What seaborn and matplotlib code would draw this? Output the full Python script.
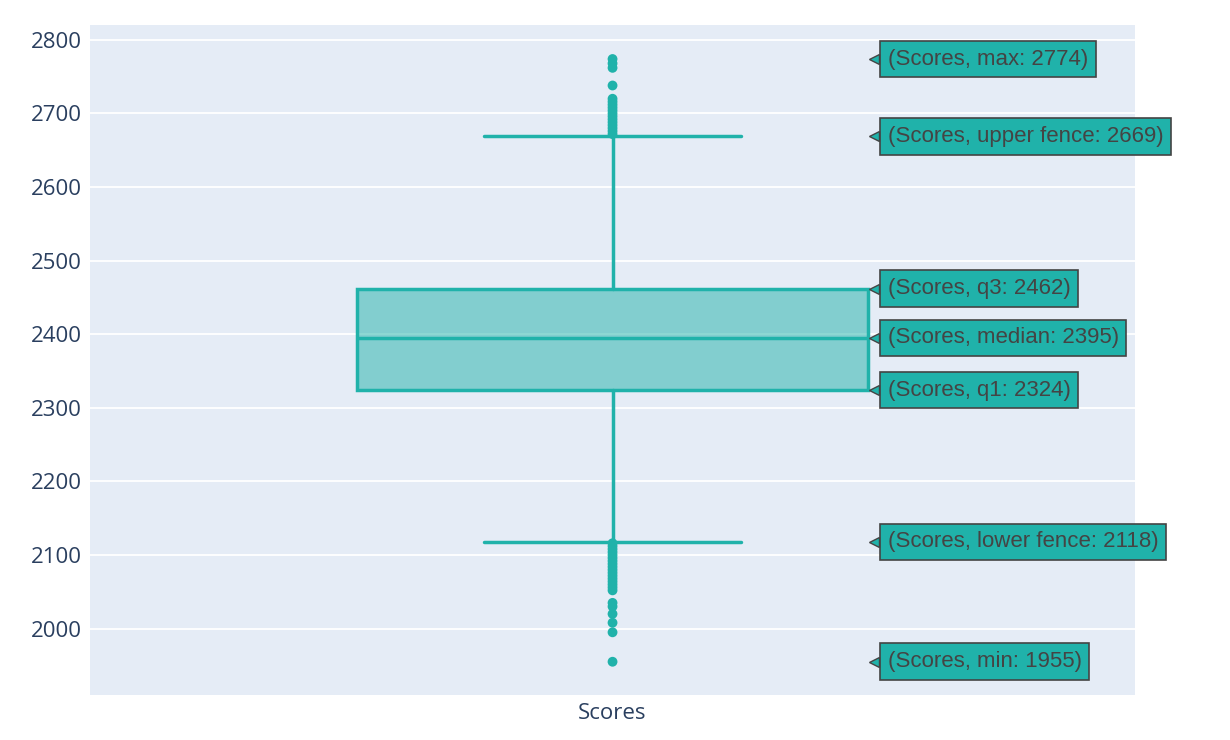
import matplotlib
matplotlib.use("Agg")
import matplotlib.pyplot as plt
import seaborn as sns
import pandas as pd

label = "Scores"
q1, median, q3 = 2324, 2395, 2462
lower_fence, upper_fence = 2118, 2669
vmin, vmax = 1955, 2774
outliers_high = [2672, 2676, 2680, 2684, 2688, 2692, 2696, 2700, 2704, 2708, 2712, 2716, 2720, 2738, 2762, 2768, 2774]
outliers_low = [2116, 2112, 2108, 2104, 2100, 2096, 2092, 2088, 2084, 2080, 2076, 2072, 2068, 2064, 2060, 2056, 2052, 2035, 2030, 2020, 2008, 1995, 1955]
yticks = [2000, 2100, 2200, 2300, 2400, 2500, 2600, 2700, 2800]

color = "#20B2AA"
sns.set_theme(style="darkgrid", rc={"axes.facecolor": "#E5ECF6", "grid.color": "white", "grid.linewidth": 1.3})
plt.rcParams["font.family"] = ["Open Sans", "DejaVu Sans"]

fig = plt.figure(figsize=(12.3, 7.4), dpi=100)
ax = fig.add_axes([0.073, 0.061, 0.850, 0.905])

stats = [dict(med=median, q1=q1, q3=q3, whislo=lower_fence, whishi=upper_fence, fliers=[], label=label)]
ax.bxp(stats, positions=[0], widths=0.489, patch_artist=True, showfliers=False,
       boxprops=dict(facecolor=(0.125, 0.698, 0.667, 0.5), edgecolor=color, linewidth=2.5),
       medianprops=dict(color=color, linewidth=2.5),
       whiskerprops=dict(color=color, linewidth=2.5),
       capprops=dict(color=color, linewidth=2.5), capwidths=0.245)

pts = pd.DataFrame({"x": [0] * (len(outliers_high) + len(outliers_low)), "y": outliers_high + outliers_low})
ax.scatter(pts["x"], pts["y"], s=50, color=color, zorder=3, edgecolor="none")

ax.set_xlim(-0.5, 0.5)
ax.set_ylim(1910, 2820)
ax.set_yticks(yticks)
ax.set_xticks([0])
ax.set_xticklabels([label])
ax.tick_params(axis="y", labelsize=16, labelcolor="#2a3f5f", length=0, pad=6)
ax.tick_params(axis="x", labelsize=16, labelcolor="#2a3f5f", length=0, pad=6)
ax.grid(axis="x", visible=False)
for s in ax.spines.values():
    s.set_visible(False)

ann = [("max", vmax), ("upper fence", upper_fence), ("q3", q3), ("median", median), ("q1", q1),
       ("lower fence", lower_fence), ("min", vmin)]
xl = 0.263
for name, v in ann:
    ax.text(xl, v, f"({label}, {name}: {v})", fontsize=16, color="#444444", va="center", ha="left",
            family="Liberation Sans",
            bbox=dict(boxstyle="square,pad=0.35", facecolor=color, edgecolor="#444444", linewidth=1.2), zorder=5, clip_on=False)
    ax.plot([0.2505], [v], marker="<", markersize=7, color=color, markeredgecolor="#444444", zorder=6, clip_on=False)

fig.savefig("out.png", dpi=100)
